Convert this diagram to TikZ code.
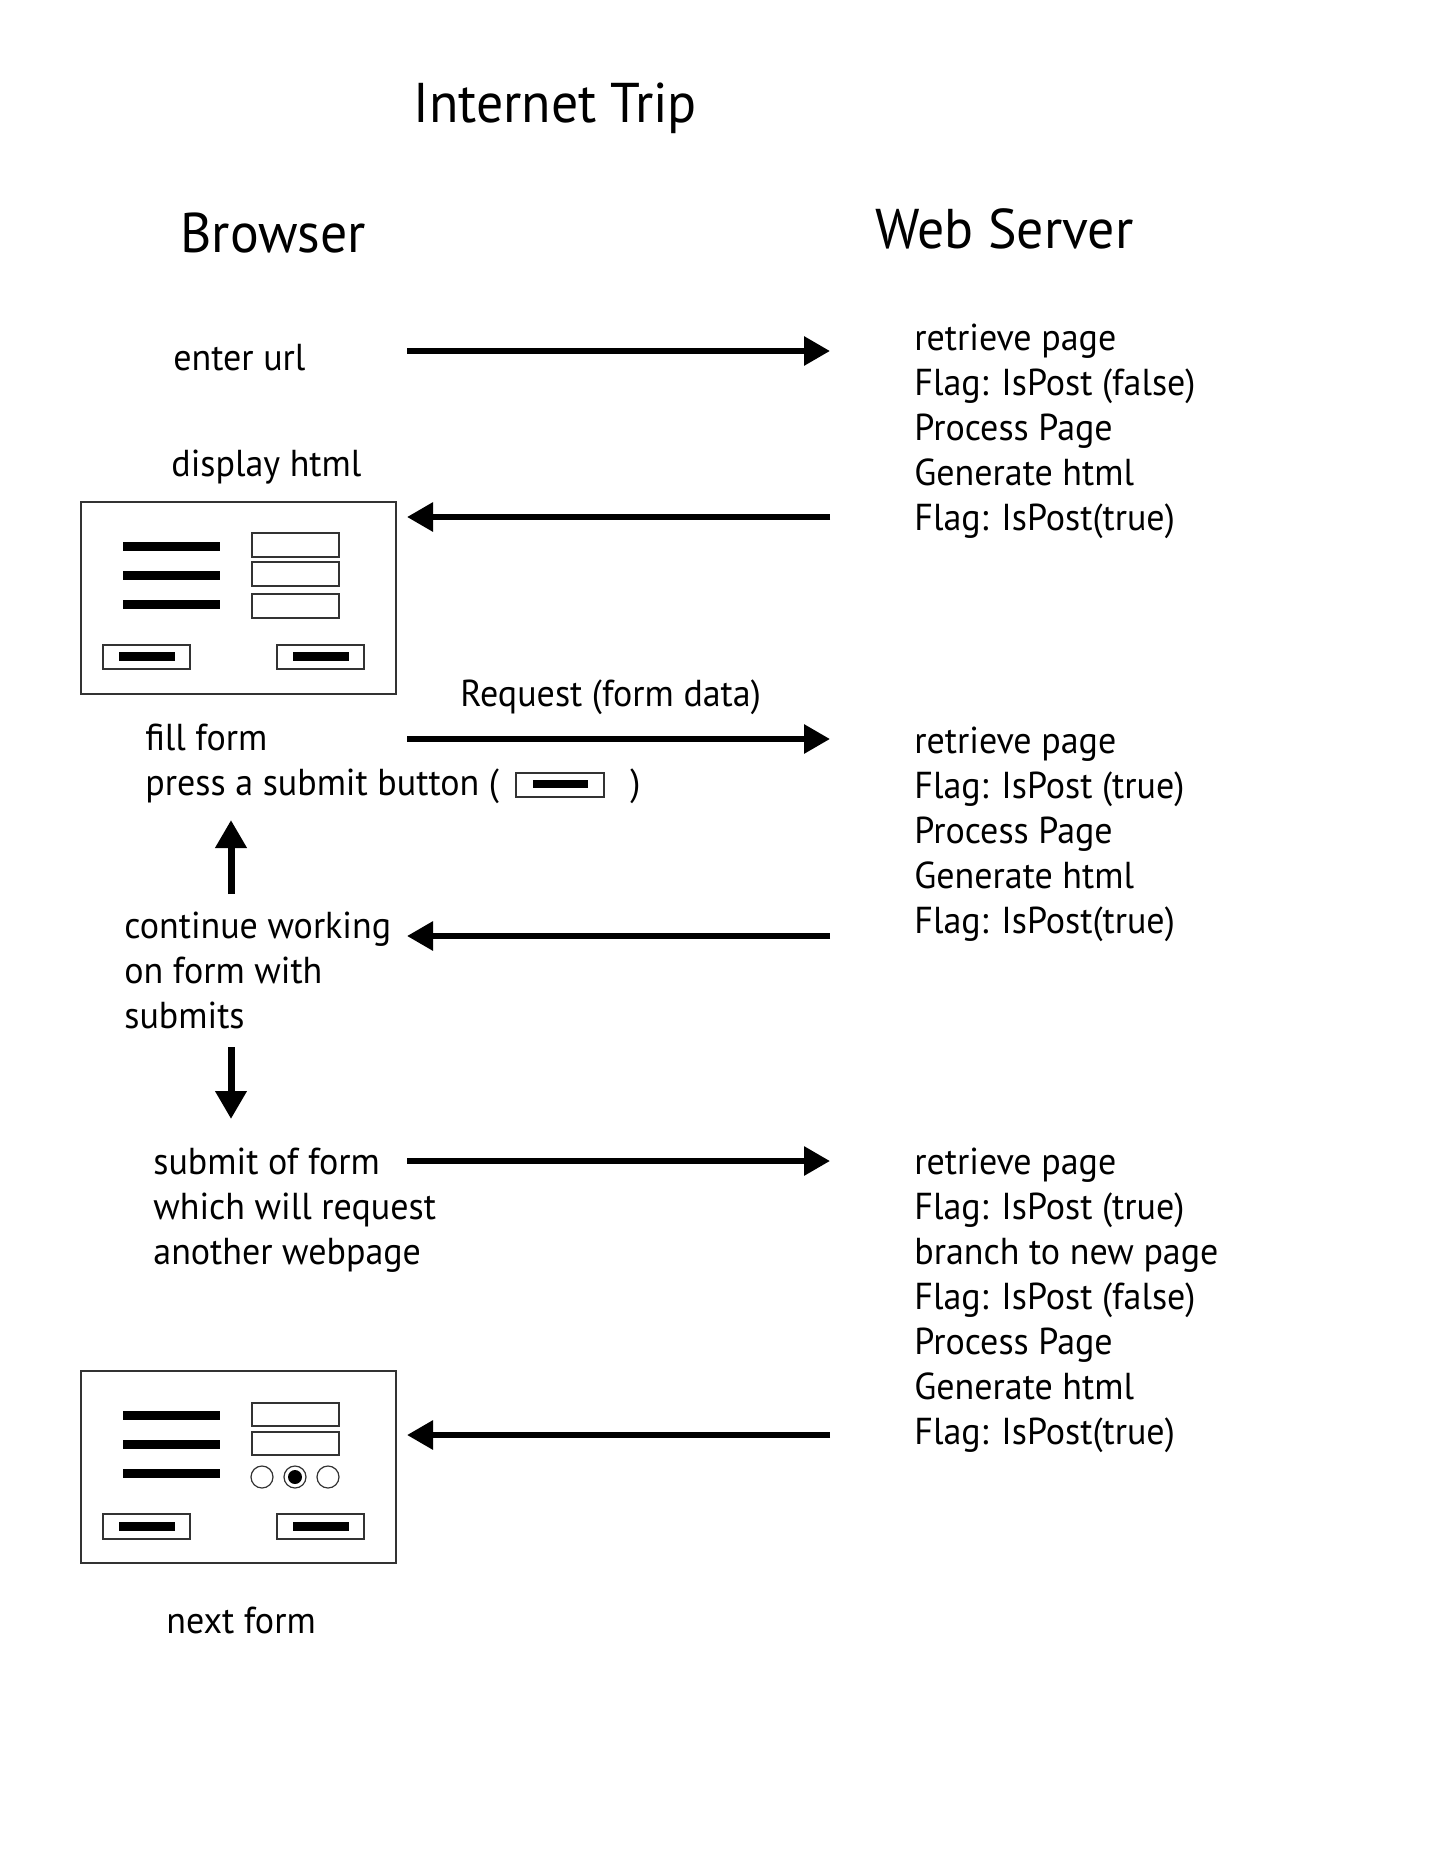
\documentclass[tikz,border=0pt]{standalone}
\usepackage{fontspec}
\setmainfont{PT Sans}[FakeStretch=0.96]
\usetikzlibrary{arrows.meta}

\begin{document}
\begin{tikzpicture}[x=0.5pt,y=-0.5pt]

\tikzstyle{connector} = [draw, line width=3pt, -{Triangle[length=13pt,width=14pt]}]
\tikzstyle{vconnector} = [draw, line width=3.5pt, -{Triangle[length=14pt,width=15pt]}]
\tikzstyle{heading} = [inner sep=0pt, anchor=base west, font=\fontsize{28}{34}\selectfont]
\tikzstyle{txt} = [inner sep=0pt, anchor=base west, font=\fontsize{18.75}{22.5}\selectfont]
\tikzstyle{frame} = [draw=black!80, line width=0.6pt]
\tikzstyle{bar} = [fill=black]

\useasboundingbox (0,0) rectangle (1431,1852);

% titles
\node[heading] (title) at (413,122) {Internet Trip};
\node[heading] (browser) at (180,252) {Browser};
\node[heading] (server) at (875,248) {Web Server};

% browser side
\node[txt] (url) at (173,370) {enter url};
\node[txt] (display) at (171,476) {display html};
\node[txt] (fill) at (145,750) {fill form};
\node[txt] (press) at (145,795) {press a submit button (};
\node[txt] (close) at (630,795) {)};
\node[txt] (cont1) at (124,938) {continue working};
\node[txt] (cont2) at (124,983) {on form with};
\node[txt] (cont3) at (124,1028) {submits};
\node[txt] (sub1) at (153,1174) {submit of form};
\node[txt] (sub2) at (153,1219) {which will request};
\node[txt] (sub3) at (153,1264) {another webpage};
\node[txt] (next) at (166,1633) {next form};
\node[txt] (request) at (460,706) {Request (form data)};

% server side
\foreach \t [count=\i from 0] in {retrieve page, Flag: IsPost (false), Process Page, Generate html, Flag: IsPost(true)}
  \node[txt] (srvA\i) at (914,{350+45*\i}) {\t};
\foreach \t [count=\i from 0] in {retrieve page, Flag: IsPost (true), Process Page, Generate html, Flag: IsPost(true)}
  \node[txt] (srvB\i) at (914,{753+45*\i}) {\t};
\foreach \t [count=\i from 0] in {retrieve page, Flag: IsPost (true), branch to new page, Flag: IsPost (false), Process Page, Generate html, Flag: IsPost(true)}
  \node[txt] (srvC\i) at (914,{1174+45*\i}) {\t};

% first form
\draw[frame] (81,502) rectangle (396,694);
\foreach \y in {546,575,604}
  \fill[bar] (123,\y-4.5) rectangle (220,\y+4.5);
\foreach \y in {533,562,594}
  \draw[frame] (252,\y) rectangle (339,\y+24);
\foreach \x in {103,277} {
  \draw[frame] (\x,645) rectangle (\x+87,669);
  \fill[bar] (\x+16,652) rectangle (\x+72,661);
}

% button in the text
\draw[frame] (516,773) rectangle (604,797);
\fill[bar] (533,780) rectangle (588,788);

% second form
\draw[frame] (81,1371) rectangle (396,1563);
\foreach \y in {1415,1444,1473}
  \fill[bar] (123,\y-4.5) rectangle (220,\y+4.5);
\foreach \y in {1403,1432}
  \draw[frame] (252,\y) rectangle (339,\y+23);
\foreach \x in {262,295,328}
  \draw[frame] (\x,1477) circle (5.5pt);
\fill[bar] (295,1477) circle (3.5pt);
\foreach \x in {103,277} {
  \draw[frame] (\x,1514) rectangle (\x+87,1539);
  \fill[bar] (\x+16,1522) rectangle (\x+72,1531);
}

% arrow ends
\coordinate (b1) at (407,351);  \coordinate (s1) at (830,351);
\coordinate (b2) at (407,517);  \coordinate (s2) at (830,517);
\coordinate (b3) at (407,739);  \coordinate (s3) at (830,739);
\coordinate (b4) at (407,936);  \coordinate (s4) at (830,936);
\coordinate (b5) at (407,1161); \coordinate (s5) at (830,1161);
\coordinate (b6) at (407,1435); \coordinate (s6) at (830,1435);
\coordinate (up1) at (231,894); \coordinate (up2) at (231,820);
\coordinate (dn1) at (231,1047); \coordinate (dn2) at (231,1119);

\path [connector] (b1) -- (s1);
\path [connector] (s2) -- (b2);
\path [connector] (b3) -- (s3);
\path [connector] (s4) -- (b4);
\path [connector] (b5) -- (s5);
\path [connector] (s6) -- (b6);
\path [vconnector] (up1) -- (up2);
\path [vconnector] (dn1) -- (dn2);

\end{tikzpicture}
\end{document}
